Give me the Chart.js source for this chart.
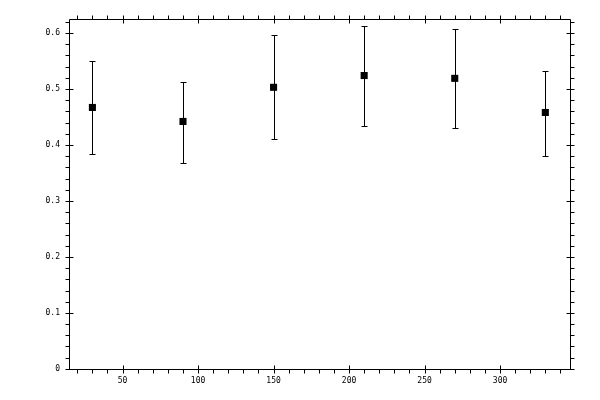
<!DOCTYPE html>
<html>
<head>
<meta charset="utf-8">
<script src="https://cdn.jsdelivr.net/npm/chart.js@4/dist/chart.umd.min.js"></script>
<style>
  body { margin: 0; background: #fff; }
  canvas { display: block; }
</style>
</head>
<body>
<canvas id="errbar_chart" width="600" height="400"></canvas>
<script>
// data
let xs = [30, 90, 150, 210, 270, 330];
let ys = [0.467, 0.442, 0.503, 0.524, 0.519, 0.458];
let yLow = [0.383, 0.368, 0.410, 0.433, 0.431, 0.381];
let yHigh = [0.550, 0.513, 0.596, 0.613, 0.607, 0.532];

let xTicks = [50, 100, 150, 200, 250, 300];
let yTicks = [0, 0.1, 0.2, 0.3, 0.4, 0.5, 0.6];

let xMinorStep = 10;
let yMinorStep = 0.02;

// frame, error bars and the little ticks all round
let framePlugin = {
    id: 'frame',
    beforeDatasetsDraw(chart) {
        let ctx = chart.ctx;
        let xs_ = chart.scales.x;
        let ys_ = chart.scales.y;
        ctx.save();
        ctx.strokeStyle = '#000';
        ctx.lineWidth = 1;
        for (let i = 0; i < xs.length; i++) {
            let px = Math.round(xs_.getPixelForValue(xs[i])) + 0.5;
            let pLo = Math.round(ys_.getPixelForValue(yLow[i])) + 0.5;
            let pHi = Math.round(ys_.getPixelForValue(yHigh[i])) + 0.5;
            ctx.beginPath();
            ctx.moveTo(px, pLo); ctx.lineTo(px, pHi);
            ctx.moveTo(px - 3, pLo); ctx.lineTo(px + 3, pLo);
            ctx.moveTo(px - 3, pHi); ctx.lineTo(px + 3, pHi);
            ctx.stroke();
        }
        ctx.restore();
    },
    afterDraw(chart) {
        let ctx = chart.ctx;
        let a = chart.chartArea;
        let xs_ = chart.scales.x;
        let ys_ = chart.scales.y;
        let L = a.left + 0.5, R = a.right - 0.5, T = a.top + 0.5, B = a.bottom - 0.5;
        ctx.save();
        ctx.strokeStyle = '#000';
        ctx.lineWidth = 1;
        ctx.beginPath();
        ctx.rect(L, T, R - L, B - T);

        // x ticks, top and bottom
        for (let v = 20; v <= 340; v += xMinorStep) {
            let px = Math.round(xs_.getPixelForValue(v)) + 0.5;
            if (xTicks.includes(v)) {
                ctx.moveTo(px, B - 4); ctx.lineTo(px, B + 4);
                ctx.moveTo(px, T - 4); ctx.lineTo(px, T + 4);
            } else {
                ctx.moveTo(px, B); ctx.lineTo(px, B + 4);
                ctx.moveTo(px, T); ctx.lineTo(px, T - 4);
            }
        }
        // y ticks, left and right
        for (let k = 0; k <= 31; k++) {
            let v = +(k * yMinorStep).toFixed(2);
            let py = Math.round(ys_.getPixelForValue(v)) + 0.5;
            if (k % 5 === 0) {
                ctx.moveTo(L - 4, py); ctx.lineTo(L + 4, py);
                ctx.moveTo(R - 4, py); ctx.lineTo(R + 4, py);
            } else {
                ctx.moveTo(L, py); ctx.lineTo(L - 4, py);
                ctx.moveTo(R, py); ctx.lineTo(R + 4, py);
            }
        }
        ctx.stroke();
        ctx.restore();
    }
};

let tickFont = { family: 'DejaVu Sans Mono', size: 8 };

let data = {
    datasets: [{
        label: 'mean',
        data: xs.map((x, i) => ({ x: x, y: ys[i] })),
        backgroundColor: '#000',
        borderColor: '#000',
        borderWidth: 0,
        pointStyle: 'rect',
        pointRadius: 5,
        pointHoverRadius: 5
    }]
};

let config = {
    type: 'scatter',
    data: data,
    options: {
        responsive: false,
        devicePixelRatio: 1,
        animation: false,
        layout: { padding: { left: 0, right: 29, top: 19, bottom: 0 } },
        plugins: { legend: { display: false }, tooltip: { enabled: false } },
        scales: {
            x: {
                type: 'linear',
                min: 14.5,
                max: 347,
                afterBuildTicks: (s) => { s.ticks = xTicks.map(v => ({ value: v })); },
                afterFit: (s) => { s.height = 30; },
                grid: { display: false, drawTicks: false },
                border: { display: false },
                ticks: { font: tickFont, color: '#000', padding: 6, maxRotation: 0, autoSkip: false }
            },
            y: {
                type: 'linear',
                min: -0.002,
                max: 0.625,
                afterBuildTicks: (s) => { s.ticks = yTicks.map(v => ({ value: v })); },
                afterFit: (s) => { s.width = 69; },
                grid: { display: false, drawTicks: false },
                border: { display: false },
                ticks: { font: tickFont, color: '#000', padding: 9, autoSkip: false }
            }
        }
    },
    plugins: [framePlugin]
};

let errbar_chart = new Chart(document.getElementById('errbar_chart'), config);
</script>
</body>
</html>
